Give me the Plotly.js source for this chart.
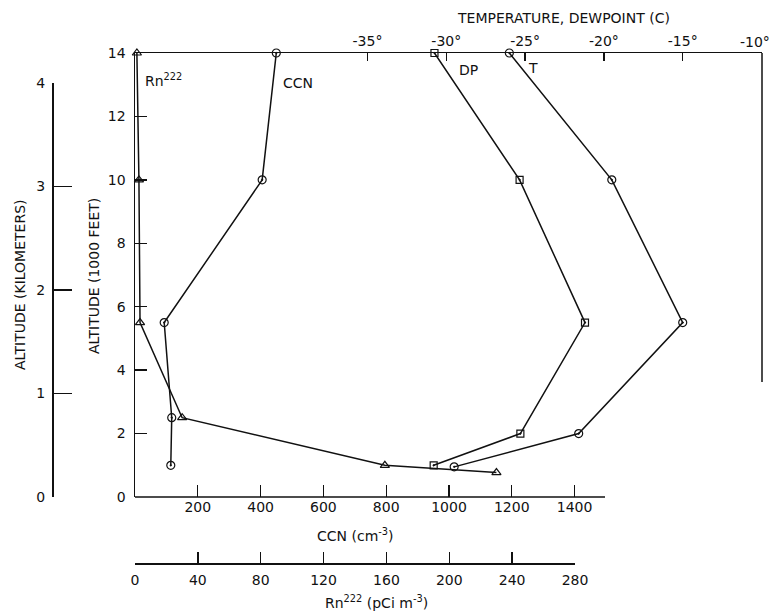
<!DOCTYPE html>
<html>
<head>
<meta charset="utf-8">
<script src="https://cdn.plot.ly/plotly-3.0.1.min.js"></script>
<style>html,body{margin:0;padding:0;background:#fff;}#chart{width:774px;height:611px;}</style>
</head>
<body>
<div id="chart"></div>
<script>
// Altitude in 1000 ft
const altT   = [14, 10, 5.5, 2, 0.95];
const tempT  = [-26, -19.5, -15, -21.6, -29.5];
const altDP  = [14, 10, 5.5, 2, 1.0];
const tempDP = [-30.75, -25.35, -21.2, -25.3, -30.8];
const altCCN = [14, 10, 5.5, 2.5, 1.0];
const ccn    = [450, 405, 93, 117, 114];
const altRn  = [14, 10, 5.5, 2.5, 1.0, 0.77];
const rn     = [1.2, 2.5, 3.2, 30, 159, 230];

const ccnTicks  = [200, 400, 600, 800, 1000, 1200, 1400];
const rnTicks   = [0, 40, 80, 120, 160, 200, 240, 280];
const tempTicks = [-35, -30, -25, -20, -15, -10];
// the last label (-10°) sits at the right edge; it is drawn as an annotation so it is not cut
const tempText  = tempTicks.map(v => v === -10 ? '' : v + '°');
const lastTempLabel = tempTicks[tempTicks.length - 1] + '°';
const kmTicks   = [0, 1, 2, 3, 4];

const F = {family: 'DejaVu Sans, sans-serif', size: 14, color: '#111'};
const lineStyle = {color: '#111', width: 1.5};

const traces = [
  {x: ccn, y: altCCN, xaxis: 'x', yaxis: 'y', mode: 'lines+markers', line: lineStyle,
   marker: {symbol: 'circle-open-dot', size: 8, color: '#111', line: {width: 1.2}}, cliponaxis: false},
  {x: rn, y: altRn, xaxis: 'x3', yaxis: 'y', mode: 'lines+markers', line: lineStyle,
   marker: {symbol: 'triangle-up-open', size: 8, color: '#111', line: {width: 1.2}}, cliponaxis: false},
  {x: tempDP, y: altDP, xaxis: 'x2', yaxis: 'y', mode: 'lines+markers', line: lineStyle,
   marker: {symbol: 'square-open-dot', size: 7, color: '#111', line: {width: 1.2}}, cliponaxis: false},
  {x: tempT, y: altT, xaxis: 'x2', yaxis: 'y', mode: 'lines+markers', line: lineStyle,
   marker: {symbol: 'circle-open-dot', size: 8, color: '#111', line: {width: 1.2}}, cliponaxis: false},
  {x: [], y: [], xaxis: 'x', yaxis: 'y2', mode: 'markers', hoverinfo: 'skip'}
];

const xd0 = (135 - 52) / 710;
const yd0 = 66 / 510;

const layout = {
  width: 774, height: 611,
  margin: {l: 52, r: 12, t: 53, b: 48},
  paper_bgcolor: '#fff', plot_bgcolor: 'rgba(0,0,0,0)',
  showlegend: false,
  font: F,
  xaxis: {domain: [xd0, 1], range: [0, 1997], tickvals: ccnTicks, ticks: 'inside', ticklen: 12,
          tickcolor: '#111', tickwidth: 1.3, showline: false, showgrid: false, zeroline: false,
          anchor: 'y', tickfont: F, automargin: false},
  xaxis2: {overlaying: 'x', side: 'top', anchor: 'y', range: [-49.75, -9.97], tickvals: tempTicks,
           ticktext: tempText, ticks: 'inside', ticklen: 8, tickcolor: '#111', tickwidth: 1.3,
           showline: true, linecolor: '#111', linewidth: 1.5, showgrid: false, zeroline: false,
           tickfont: F, automargin: false},
  xaxis3: {domain: [xd0, xd0 + 440 / 710], range: [0, 280], anchor: 'free', position: 0,
           tickvals: rnTicks, ticks: 'inside', ticklen: 11, tickcolor: '#111', tickwidth: 1.3,
           showline: true, linecolor: '#111', linewidth: 1.5, showgrid: false, zeroline: false,
           tickfont: F, ticklabelstandoff: 4, automargin: false},
  yaxis: {domain: [yd0, 1], range: [0, 14], dtick: 2, ticks: 'inside', ticklen: 12,
          tickcolor: '#111', tickwidth: 1.3, showline: true, linecolor: '#111', linewidth: 1.5,
          showgrid: false, zeroline: false, tickfont: F, ticklabelstandoff: 5, automargin: false},
  yaxis2: {domain: [yd0, (563 - 83) / 510], range: [0, 4], anchor: 'free', position: 0,
           tickvals: kmTicks, ticks: 'inside', ticklen: 18, tickcolor: '#111', tickwidth: 1.3,
           showline: true, linecolor: '#111', linewidth: 1.5, showgrid: false, zeroline: false,
           tickfont: F, ticklabelstandoff: 4, automargin: false},
  shapes: [
    {type: 'line', xref: 'x domain', yref: 'y domain', x0: 0, x1: (605 - 135) / 627, y0: 0, y1: 0,
     line: {color: '#111', width: 1.5}},
    {type: 'line', xref: 'x domain', yref: 'y domain', x0: 1, x1: 1, y0: 1, y1: (497 - 382) / 444,
     line: {color: '#111', width: 1.5}}
  ],
  annotations: [
    {text: lastTempLabel, xref: 'paper', yref: 'paper', x: (755 - 52) / 710, y: (563 - 42) / 510,
     xanchor: 'center', yanchor: 'middle', showarrow: false, font: F},
    {text: 'TEMPERATURE, DEWPOINT (C)', xref: 'paper', yref: 'paper', x: (563 - 52) / 710, y: (563 - 18) / 510,
     xanchor: 'center', yanchor: 'middle', showarrow: false, font: F},
    {text: 'CCN (cm<sup>-3</sup>)', xref: 'paper', yref: 'paper', x: (355 - 52) / 710, y: (563 - 535) / 510,
     xanchor: 'center', yanchor: 'middle', showarrow: false, font: F},
    {text: 'Rn<sup>222</sup> (pCi m<sup>-3</sup>)', xref: 'paper', yref: 'paper', x: (376 - 52) / 710, y: (563 - 602) / 510,
     xanchor: 'center', yanchor: 'middle', showarrow: false, font: F},
    {text: 'ALTITUDE (KILOMETERS)', xref: 'paper', yref: 'paper', x: (20 - 52) / 710, y: (563 - 285) / 510,
     xanchor: 'center', yanchor: 'middle', textangle: -90, showarrow: false, font: F},
    {text: 'ALTITUDE (1000 FEET)', xref: 'paper', yref: 'paper', x: (94 - 52) / 710, y: (563 - 276) / 510,
     xanchor: 'center', yanchor: 'middle', textangle: -90, showarrow: false, font: F},
    {text: 'Rn<sup>222</sup>', xref: 'paper', yref: 'paper', x: (143 - 52) / 710, y: (563 - 80) / 510,
     xanchor: 'left', yanchor: 'middle', showarrow: false, font: F},
    {text: 'CCN', xref: 'paper', yref: 'paper', x: (281 - 52) / 710, y: (563 - 83) / 510,
     xanchor: 'left', yanchor: 'middle', showarrow: false, font: F},
    {text: 'DP', xref: 'paper', yref: 'paper', x: (457 - 52) / 710, y: (563 - 70) / 510,
     xanchor: 'left', yanchor: 'middle', showarrow: false, font: F},
    {text: 'T', xref: 'paper', yref: 'paper', x: (526 - 52) / 710, y: (563 - 68) / 510,
     xanchor: 'left', yanchor: 'middle', showarrow: false, font: F}
  ]
};

Plotly.newPlot('chart', traces, layout, {displayModeBar: false, staticPlot: true});
</script>
</body>
</html>
